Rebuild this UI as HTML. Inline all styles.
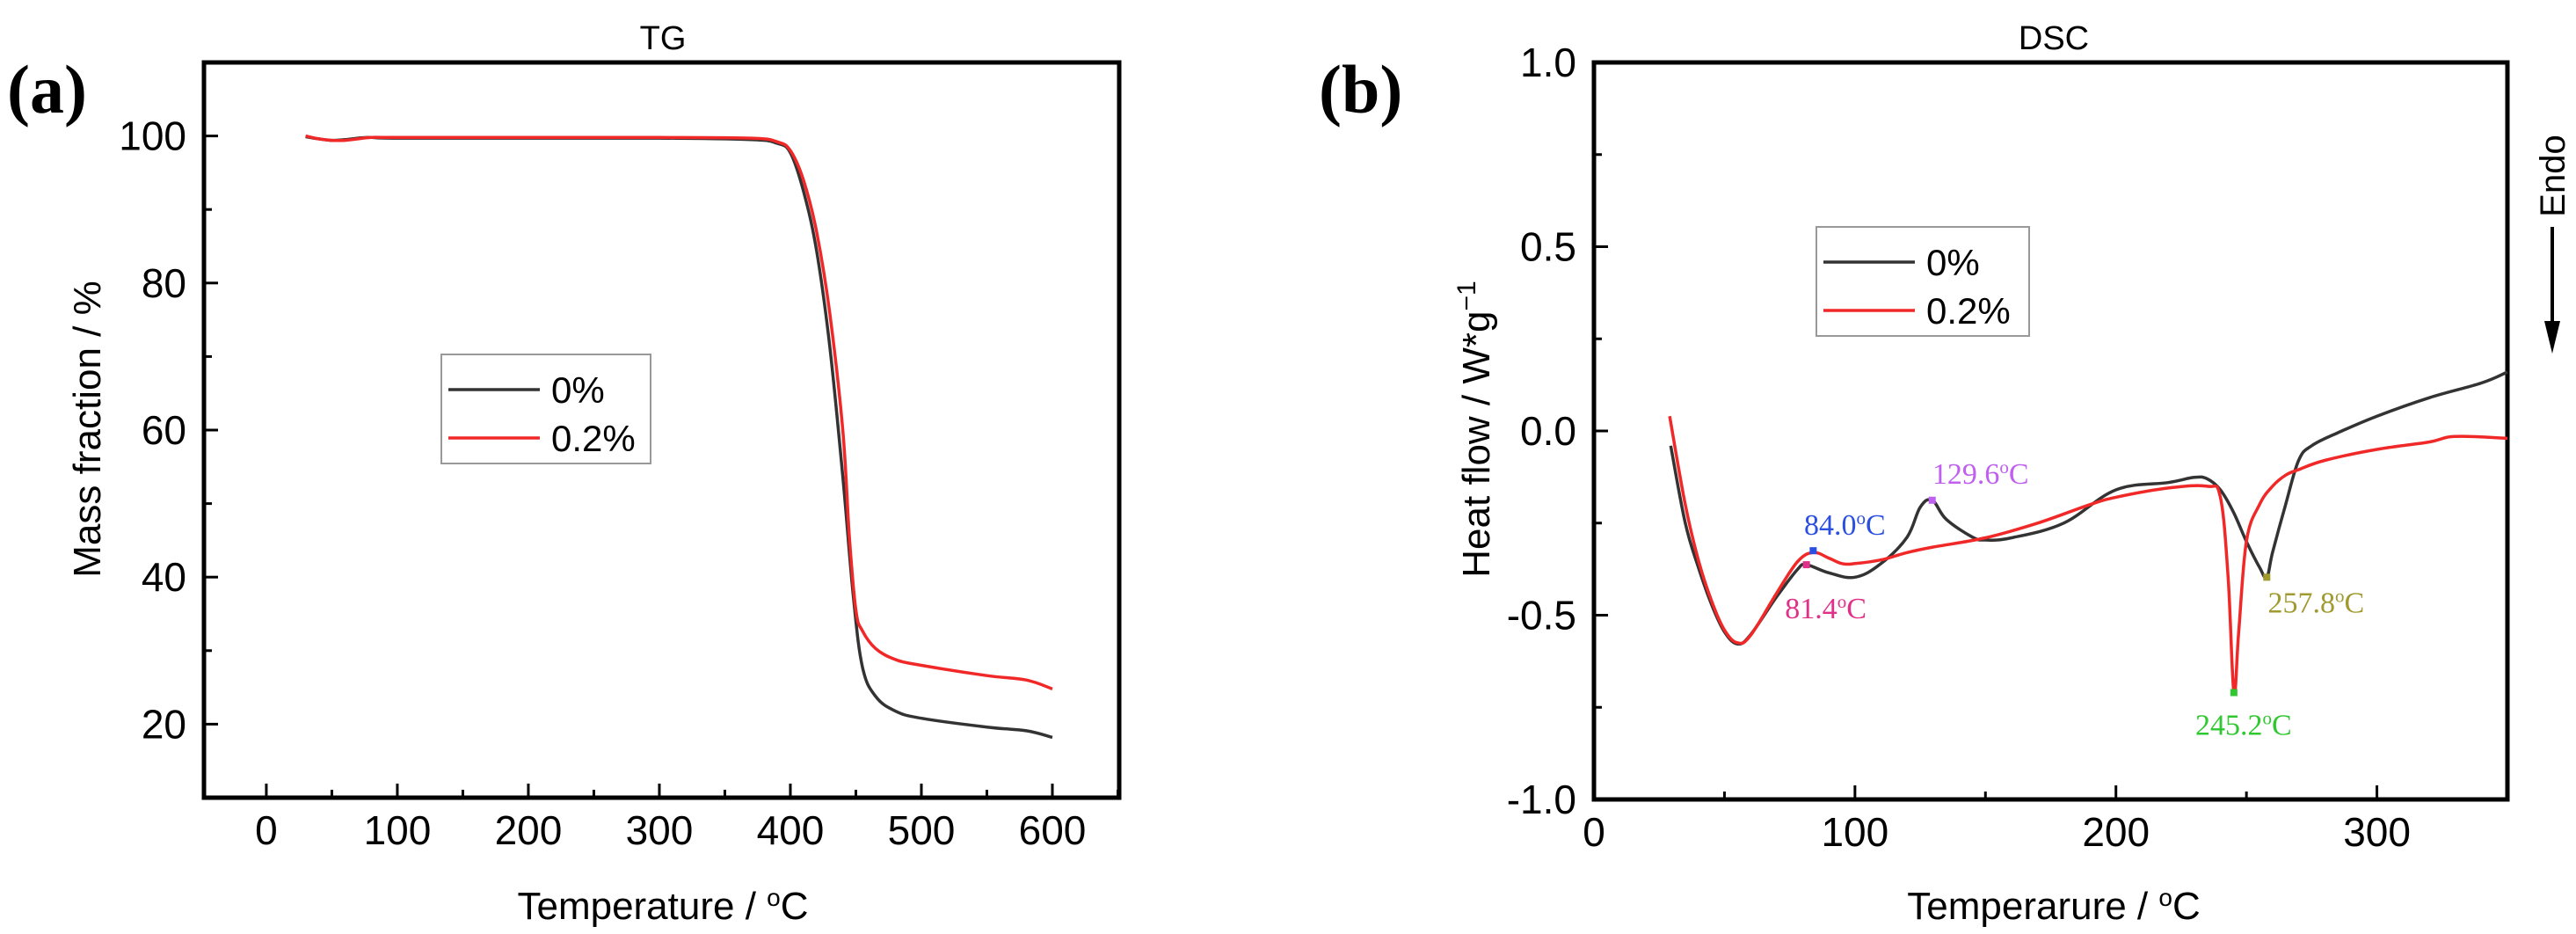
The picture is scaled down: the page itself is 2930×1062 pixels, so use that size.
<!DOCTYPE html>
<html><head><meta charset="utf-8"><style>
html,body{margin:0;padding:0;background:#fff;}
svg{display:block;font-family:"Liberation Sans",sans-serif;}
</style></head><body>
<svg id="fig" width="2930" height="1062" viewBox="0 0 2930 1062" xmlns="http://www.w3.org/2000/svg">
<text x="8" y="128" font-family="Liberation Serif" font-weight="bold" font-size="78">(a)</text>
<text x="1500" y="128" font-family="Liberation Serif" font-weight="bold" font-size="78">(b)</text>
<text x="754" y="56" text-anchor="middle" font-size="38">TG</text>
<text x="2336" y="56" text-anchor="middle" font-size="38">DSC</text>
<text x="754" y="1045" text-anchor="middle" font-size="44">Temperature / <tspan baseline-shift="super" font-size="28">o</tspan>C</text>
<text x="2336" y="1045" text-anchor="middle" font-size="44">Temperarure / <tspan baseline-shift="super" font-size="28">o</tspan>C</text>
<text transform="translate(114,488) rotate(-90)" text-anchor="middle" font-size="44">Mass fraction / %</text>
<text transform="translate(1694,488) rotate(-90)" text-anchor="middle" font-size="44">Heat flow / W*g<tspan baseline-shift="super" font-size="30">−1</tspan></text>
<text transform="translate(2917,200) rotate(-90)" text-anchor="middle" font-size="40">Endo</text>
<g>
<line x1="2903" y1="258" x2="2903" y2="370" stroke="#000" stroke-width="4"/>
<polygon points="2894,365 2912,365 2903,402" fill="#000"/>
</g>
<g id="plots"></g>
</svg>
<script>
// TG data
const tgTemps0 = [30,40,50,60,70,80,100,200,300,370,390,400,410,420,430,440,448,455,465,480,500,550,580,600];
const tgMass0  = [99.9,99.6,99.4,99.5,99.7,99.8,99.7,99.7,99.7,99.5,99.0,97.7,92.5,84.4,71.5,53.7,37.5,27.8,23.8,21.8,20.8,19.6,19.1,18.2];
const tgTemps1 = [30,40,50,60,70,80,100,200,300,370,390,400,410,420,430,440,445,450,455,465,480,500,550,580,600];
const tgMass1  = [100,99.6,99.4,99.4,99.6,99.8,99.8,99.8,99.8,99.7,99.2,98.0,94.0,87.0,76.0,60.0,45.6,35.5,32.7,30.3,28.8,28.0,26.6,26.0,24.8];
const tgXTicks = [0,100,200,300,400,500,600];
const tgYTicks = [20,40,60,80,100];
// DSC data
const dscTemps0 = [29.4,35,40,45,50,55,60,70,78,81.4,90,100,110,120,125,129.6,135,145,150,160,180,200,220,230,235,240,245,250,255,257.8,260,265,270,275,285,300,320,340,350];
const dscHeat0  = [-0.04,-0.25,-0.37,-0.47,-0.545,-0.578,-0.553,-0.45,-0.376,-0.363,-0.385,-0.397,-0.36,-0.288,-0.207,-0.188,-0.24,-0.288,-0.296,-0.29,-0.25,-0.16,-0.14,-0.126,-0.13,-0.16,-0.22,-0.30,-0.37,-0.397,-0.33,-0.2,-0.08,-0.04,-0.005,0.04,0.09,0.13,0.16];
const dscTemps1 = [29,35,40,45,50,55,60,70,78,84,90,95,100,110,120,130,150,170,190,200,220,235,240,243,245.2,247,250,255,260,265,270,280,300,320,330,350];
const dscHeat1  = [0.04,-0.2,-0.35,-0.46,-0.54,-0.575,-0.555,-0.44,-0.355,-0.33,-0.345,-0.36,-0.36,-0.35,-0.33,-0.315,-0.29,-0.25,-0.2,-0.18,-0.155,-0.15,-0.18,-0.4,-0.71,-0.55,-0.3,-0.2,-0.15,-0.12,-0.105,-0.08,-0.05,-0.03,-0.015,-0.02];
const dscXTicks = [0,100,200,300];
const dscYTicks = [-1.0,-0.5,0.0,0.5,1.0];
const peakTemps = [84.0,81.4,129.6,257.8,245.2];
const peakHeats = [-0.325,-0.363,-0.188,-0.397,-0.71];
const peakLabels = ['84.0','81.4','129.6','257.8','245.2'];

const NS='http://www.w3.org/2000/svg';
const root=document.getElementById('plots');
function mk(tag,attrs,parent){const e=document.createElementNS(NS,tag);for(const k in attrs)e.setAttribute(k,attrs[k]);(parent||root).appendChild(e);return e;}

function axes(box,xr,yr,xt,yt,xminor,yminor,fmt,name){
  const sx=v=>box.l+(v-xr[0])/(xr[1]-xr[0])*(box.r-box.l);
  const sy=v=>box.b-(v-yr[0])/(yr[1]-yr[0])*(box.b-box.t);
  const g=mk('g',{});
  
  
  for(let v=Math.ceil(xr[0]/xminor)*xminor; v<=xr[1]+1e-9; v+=xminor){
    const major=xt.some(t=>Math.abs(t-v)<1e-9);
    const x=sx(v);
    mk('line',{x1:x,x2:x,y1:box.b,y2:box.b-(major?16:9),stroke:'#000','stroke-width':3},g);
  }
  for(let v=Math.ceil(yr[0]/yminor-1e-9)*yminor; v<=yr[1]+1e-9; v+=yminor){
    const major=yt.some(t=>Math.abs(t-v)<1e-9);
    const y=sy(v);
    mk('line',{x1:box.l,x2:box.l+(major?16:9),y1:y,y2:y,stroke:'#000','stroke-width':3},g);
  }
  xt.forEach(v=>{const t=mk('text',{x:sx(v),y:box.b+53,'text-anchor':'middle','font-size':46},g);t.textContent=v;
    
    });
  yt.forEach(v=>{const t=mk('text',{x:box.l-20,y:sy(v)+16,'text-anchor':'end','font-size':46},g);t.textContent=fmt(v);
    
    });
  mk('rect',{x:box.l,y:box.t,width:box.r-box.l,height:box.b-box.t,fill:'none',stroke:'#000','stroke-width':5},g);
  return {sx,sy};
}
function series(s,xs,ys,color,name){
  const P=xs.map((x,i)=>[s.sx(x),s.sy(ys[i])]);
  let d='M'+P[0][0].toFixed(1)+','+P[0][1].toFixed(1);
  for(let i=0;i<P.length-1;i++){
    const p0=P[Math.max(0,i-1)],p1=P[i],p2=P[i+1],p3=P[Math.min(P.length-1,i+2)];
    const k=0.18;
    const c1=[p1[0]+(p2[0]-p0[0])*k,p1[1]+(p2[1]-p0[1])*k];
    const c2=[p2[0]-(p3[0]-p1[0])*k,p2[1]-(p3[1]-p1[1])*k];
    d+=' C'+c1.map(v=>v.toFixed(1)).join(',')+' '+c2.map(v=>v.toFixed(1)).join(',')+' '+p2.map(v=>v.toFixed(1)).join(',');
  }
  const p=mk('path',{d:d,fill:'none',stroke:color,'stroke-width':3.5,'stroke-linejoin':'round'});
  
  
}
function legend(x,y,w,h,name){
  const g=mk('g',{});
  
  
  mk('rect',{x:x,y:y,width:w,height:h,fill:'#fff',stroke:'#999','stroke-width':2},g);
  mk('line',{x1:x+8,x2:x+112,y1:y+40,y2:y+40,stroke:'#333','stroke-width':3.5},g);
  mk('line',{x1:x+8,x2:x+112,y1:y+95,y2:y+95,stroke:'#f02828','stroke-width':3.5},g);
  const t1=mk('text',{x:x+125,y:y+55,'font-size':42},g);t1.textContent='0%';
  const t2=mk('text',{x:x+125,y:y+110,'font-size':42},g);t2.textContent='0.2%';
}
// TG
const a=axes({l:232,r:1273,t:71,b:907},[-47.6,651],[10,110],tgXTicks,tgYTicks,50,10,v=>v,'tg');
series(a,tgTemps0,tgMass0,'#333','tg-line-0pct');
series(a,tgTemps1,tgMass1,'#f02828','tg-line-0.2pct');
legend(502,403,238,124,'tg-legend');
// DSC
const b=axes({l:1813,r:2852,t:71,b:909},[0,350],[-1,1],dscXTicks,dscYTicks,50,0.25,v=>v.toFixed(1),'dsc');
series(b,dscTemps0,dscHeat0,'#333','dsc-line-0pct');
series(b,dscTemps1,dscHeat1,'#f02828','dsc-line-0.2pct');
legend(2066,258,242,124,'dsc-legend');
const pColors=['#2b4fe0','#e0308a','#c060f0','#a09a30','#30c830'];
const pOff=[[36,-18],[22,61],[55,-19],[56,40],[11,48]];
peakTemps.forEach((t,i)=>{
  const x=b.sx(t),y=b.sy(peakHeats[i]);
  const m=mk('rect',{x:x-4,y:y-4,width:8,height:8,fill:pColors[i]});
  
  
  const tx=mk('text',{x:x+pOff[i][0],y:y+pOff[i][1],'text-anchor':'middle','font-family':'Liberation Serif','font-size':34,fill:pColors[i]});
  tx.innerHTML=peakLabels[i]+'<tspan baseline-shift="super" font-size="21">o</tspan>C';
  
  
});
</script>
</body></html>
